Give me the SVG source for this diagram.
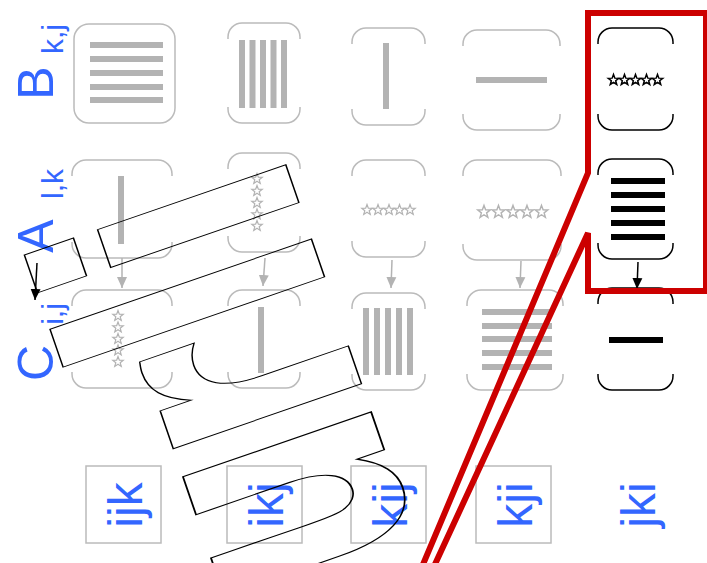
<svg xmlns="http://www.w3.org/2000/svg" xmlns:xlink="http://www.w3.org/1999/xlink" width="707" height="563" viewBox="0 0 707 563">
<style>
.gb{fill:none;stroke:#bbbbbb;stroke-width:1.5}
.kb{fill:none;stroke:#000;stroke-width:1.5}
.gbar{fill:#b3b3b3}
.kbar{fill:#000}
.gs{fill:none;stroke:#b3b3b3;stroke-width:1.2}
.ks{fill:none;stroke:#000;stroke-width:1.5}
.lab{font-family:"Liberation Sans",Arial,sans-serif;fill:#3366ff;text-anchor:middle}
.lb{fill:none;stroke:#bbbbbb;stroke-width:1.5}
.ga{stroke:#b3b3b3;stroke-width:1.5;fill:none}
.ka{stroke:#000;stroke-width:1.5;fill:none}
</style>
<defs>
<path id="star" d="M0,-5.5 L1.35,-1.86 L5.23,-1.7 L2.19,0.71 L3.23,4.45 L0,2.3 L-3.23,4.45 L-2.19,0.71 L-5.23,-1.7 L-1.35,-1.86Z"/>
<marker id="ag" markerUnits="userSpaceOnUse" markerWidth="12" markerHeight="12" viewBox="0 0 12 12" refX="11" refY="6" orient="auto"><path d="M0,1 L11,6 L0,11Z" fill="#b3b3b3"/></marker>
<marker id="ak" markerUnits="userSpaceOnUse" markerWidth="12" markerHeight="12" viewBox="0 0 12 12" refX="11" refY="6" orient="auto"><path d="M0,1 L11,6 L0,11Z" fill="#000"/></marker>
</defs>
<rect width="707" height="563" fill="#fff"/>

<g id="labels-left">
<text class="lab" font-size="50" transform="translate(53,83) rotate(-90)">B</text>
<text class="lab" font-size="30" transform="translate(63,39) rotate(-90)">k,j</text>
<text class="lab" font-size="50" transform="translate(53,236) rotate(-90)">A</text>
<text class="lab" font-size="30" transform="translate(63,184) rotate(-90)">l,k</text>
<text class="lab" font-size="50" transform="translate(53,363) rotate(-90)">C</text>
<text class="lab" font-size="30" transform="translate(63,314) rotate(-90)">i,j</text>
</g>

<g id="B1"><rect class="gb" x="74" y="24" width="101" height="99" rx="15"/>
<rect class="gbar" x="90" y="42" width="73" height="6"/><rect class="gbar" x="90" y="56" width="73" height="6"/><rect class="gbar" x="90" y="70" width="73" height="6"/><rect class="gbar" x="90" y="84" width="73" height="6"/><rect class="gbar" x="90" y="97" width="73" height="6"/></g>
<g id="B2"><path class="gb" d="M228,39 V37 A14,14 0 0 1 242,23 H286 A14,14 0 0 1 300,37 V39 M228,107 V109 A14,14 0 0 0 242,123 H286 A14,14 0 0 0 300,109 V107"/>
<rect class="gbar" x="239" y="40" width="6" height="68"/><rect class="gbar" x="249.5" y="40" width="6" height="68"/><rect class="gbar" x="260" y="40" width="6" height="68"/><rect class="gbar" x="270.5" y="40" width="6" height="68"/><rect class="gbar" x="281" y="40" width="6" height="68"/></g>
<g id="B3"><path class="gb" d="M352,44 V42 A14,14 0 0 1 366,28 H411 A14,14 0 0 1 425,42 V44 M352,109 V111 A14,14 0 0 0 366,125 H411 A14,14 0 0 0 425,111 V109"/>
<rect class="gbar" x="383" y="43" width="6" height="66"/></g>
<g id="B4"><path class="gb" d="M463,46 V44 A14,14 0 0 1 477,30 H546 A14,14 0 0 1 560,44 V46 M463,114 V116 A14,14 0 0 0 477,130 H546 A14,14 0 0 0 560,116 V114"/>
<rect class="gbar" x="476" y="77" width="71" height="6"/></g>
<g id="B5"><path class="kb" d="M598,44 V42 A14,14 0 0 1 612,28 H659 A14,14 0 0 1 673,42 V44 M598,114 V116 A14,14 0 0 0 612,130 H659 A14,14 0 0 0 673,116 V114"/>
<use xlink:href="#star" class="ks" x="613.5" y="80"/><use xlink:href="#star" class="ks" x="624.5" y="80"/><use xlink:href="#star" class="ks" x="635.5" y="80"/><use xlink:href="#star" class="ks" x="646.5" y="80"/><use xlink:href="#star" class="ks" x="657.5" y="80"/></g>

<g id="A1"><path class="gb" d="M72,176 V174 A14,14 0 0 1 86,160 H158 A14,14 0 0 1 172,174 V176 M72,242 V244 A14,14 0 0 0 86,258 H158 A14,14 0 0 0 172,244 V242"/>
<rect class="gbar" x="118" y="176" width="6" height="68"/></g>
<g id="A2"><path class="gb" d="M228,169 V167 A14,14 0 0 1 242,153 H286 A14,14 0 0 1 300,167 V169 M228,236 V238 A14,14 0 0 0 242,252 H286 A14,14 0 0 0 300,238 V236"/>
<use xlink:href="#star" class="gs" x="257" y="179"/><use xlink:href="#star" class="gs" x="257" y="191"/><use xlink:href="#star" class="gs" x="257" y="203"/><use xlink:href="#star" class="gs" x="257" y="214.5"/><use xlink:href="#star" class="gs" x="257" y="226"/></g>
<g id="A3"><path class="gb" d="M352,176 V174 A14,14 0 0 1 366,160 H411 A14,14 0 0 1 425,174 V176 M352,241 V243 A14,14 0 0 0 366,257 H411 A14,14 0 0 0 425,243 V241"/>
<use xlink:href="#star" class="gs" x="367" y="210"/><use xlink:href="#star" class="gs" x="378" y="210"/><use xlink:href="#star" class="gs" x="389" y="210"/><use xlink:href="#star" class="gs" x="399.5" y="210"/><use xlink:href="#star" class="gs" x="410" y="210"/></g>
<g id="A4"><path class="gb" d="M463,176 V174 A14,14 0 0 1 477,160 H547 A14,14 0 0 1 561,174 V176 M463,244 V246 A14,14 0 0 0 477,260 H547 A14,14 0 0 0 561,246 V244"/>
<g class="gs" transform="translate(0,212)"><use xlink:href="#star" transform="translate(484,0) scale(1.2)"/><use xlink:href="#star" transform="translate(498.5,0) scale(1.2)"/><use xlink:href="#star" transform="translate(513,0) scale(1.2)"/><use xlink:href="#star" transform="translate(527,0) scale(1.2)"/><use xlink:href="#star" transform="translate(541.5,0) scale(1.2)"/></g></g>
<g id="A5"><path class="kb" d="M598,175 V173 A14,14 0 0 1 612,159 H659 A14,14 0 0 1 673,173 V175 M598,243 V245 A14,14 0 0 0 612,259 H659 A14,14 0 0 0 673,245 V243"/>
<rect class="kbar" x="611" y="178" width="54" height="6"/><rect class="kbar" x="611" y="192" width="54" height="6"/><rect class="kbar" x="611" y="206" width="54" height="6"/><rect class="kbar" x="611" y="220" width="54" height="6"/><rect class="kbar" x="611" y="234" width="54" height="6"/></g>

<g id="C1"><path class="gb" d="M72,306 V304 A14,14 0 0 1 86,290 H158 A14,14 0 0 1 172,304 V306 M72,372 V374 A14,14 0 0 0 86,388 H158 A14,14 0 0 0 172,374 V372"/>
<use xlink:href="#star" class="gs" x="118" y="316"/><use xlink:href="#star" class="gs" x="118" y="327.5"/><use xlink:href="#star" class="gs" x="118" y="339"/><use xlink:href="#star" class="gs" x="118" y="350.5"/><use xlink:href="#star" class="gs" x="118" y="362"/></g>
<g id="C2"><path class="gb" d="M228,306 V304 A14,14 0 0 1 242,290 H286 A14,14 0 0 1 300,304 V306 M228,372 V374 A14,14 0 0 0 242,388 H286 A14,14 0 0 0 300,374 V372"/>
<rect class="gbar" x="258" y="307" width="6" height="66"/></g>
<g id="C3"><path class="gb" d="M352,309 V307 A14,14 0 0 1 366,293 H411 A14,14 0 0 1 425,307 V309 M352,374 V376 A14,14 0 0 0 366,390 H411 A14,14 0 0 0 425,376 V374"/>
<rect class="gbar" x="363" y="308" width="6" height="67"/><rect class="gbar" x="374" y="308" width="6" height="67"/><rect class="gbar" x="385" y="308" width="6" height="67"/><rect class="gbar" x="396" y="308" width="6" height="67"/><rect class="gbar" x="407" y="308" width="6" height="67"/></g>
<g id="C4"><path class="gb" d="M467,306 V304 A14,14 0 0 1 481,290 H549 A14,14 0 0 1 563,304 V306 M467,374 V376 A14,14 0 0 0 481,390 H549 A14,14 0 0 0 563,376 V374"/>
<rect class="gbar" x="482" y="309" width="70" height="6"/><rect class="gbar" x="482" y="323" width="70" height="6"/><rect class="gbar" x="482" y="336" width="70" height="6"/><rect class="gbar" x="482" y="350" width="70" height="6"/><rect class="gbar" x="482" y="364" width="70" height="6"/></g>
<g id="C5"><path class="kb" d="M598,304 V302 A14,14 0 0 1 612,288 H659 A14,14 0 0 1 673,302 V304 M598,374 V376 A14,14 0 0 0 612,390 H659 A14,14 0 0 0 673,376 V374"/>
<rect class="kbar" x="609" y="337" width="54" height="6"/></g>

<g id="connectors">
<line class="ga" x1="122" y1="258" x2="122" y2="288" marker-end="url(#ag)"/>
<line class="ga" x1="265" y1="258" x2="263" y2="286" marker-end="url(#ag)"/>
<line class="ga" x1="392" y1="260" x2="391" y2="288" marker-end="url(#ag)"/>
<line class="ga" x1="521" y1="261" x2="520" y2="288" marker-end="url(#ag)"/>
<line class="ka" x1="638" y1="262" x2="637" y2="289" marker-end="url(#ak)"/>
<line class="ka" x1="37" y1="263" x2="35" y2="300" marker-end="url(#ak)"/>
</g>

<g id="order-ijk"><rect class="lb" x="86" y="466" width="75" height="77"/><text class="lab" font-size="48" transform="translate(142,505) rotate(-90)">ijk</text></g>
<g id="order-ikj"><rect class="lb" x="227" y="466" width="75" height="77"/><text class="lab" font-size="48" transform="translate(283,505) rotate(-90)">ikj</text></g>
<g id="order-kij"><rect class="lb" x="351" y="466" width="75" height="77"/><text class="lab" font-size="48" transform="translate(407,505) rotate(-90)">kij</text></g>
<g id="order-kji"><rect class="lb" x="476" y="466" width="75" height="77"/><text class="lab" font-size="48" transform="translate(532,505) rotate(-90)">kji</text></g>
<g id="order-jki"><text class="lab" font-size="48" transform="translate(655,505) rotate(-90)">jki</text></g>

<g id="outline-text"><text x="14" y="0" font-family="'DejaVu Sans',sans-serif" font-weight="bold" font-size="364" fill="none" stroke="#000" stroke-width="1.5" vector-effect="non-scaling-stroke" transform="translate(421,556.3) rotate(-109.05) scale(0.63,1)">u<tspan dx="-14">rli</tspan></text></g>

<g id="highlight"><path d="M588,173 L588,13 L706,13 L706,291 L588,291 L588,233 L418.5,600 L408,600 Z" fill="none" stroke="#cc0000" stroke-width="6"/></g>
</svg>
